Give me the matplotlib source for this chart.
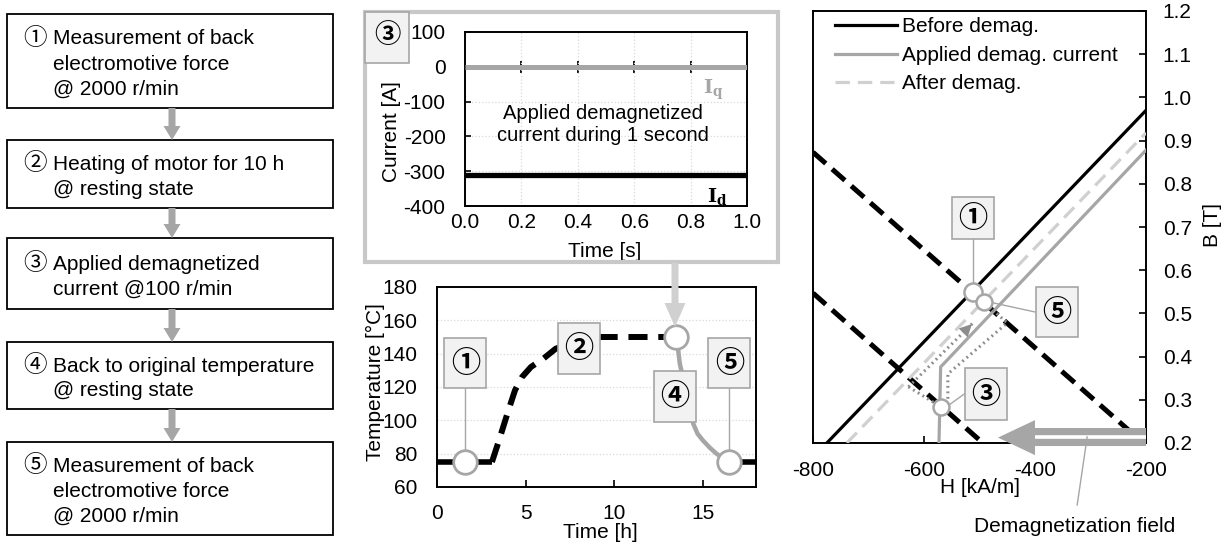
import matplotlib
matplotlib.use("Agg")
import matplotlib.pyplot as plt
from matplotlib.patches import Rectangle, FancyArrow, Polygon
from matplotlib.lines import Line2D
from matplotlib.transforms import IdentityTransform

plt.rcParams['font.family'] = ['Liberation Sans', 'Noto Sans CJK JP', 'DejaVu Sans']
plt.rcParams['mathtext.fontset'] = 'dejavuserif'
plt.rcParams['axes.unicode_minus'] = False

# ---------------- data ----------------
flow_steps = [
    ("①", ["Measurement of back", "electromotive force", "@ 2000 r/min"]),
    ("②", ["Heating of motor for 10 h", "@ resting state"]),
    ("③", ["Applied demagnetized", "current @100 r/min"]),
    ("④", ["Back to original temperature", "@ resting state"]),
    ("⑤", ["Measurement of back", "electromotive force", "@ 2000 r/min"]),
]

# current inset
cur_t = [0.0, 1.0]
cur_Iq = [0, 0]
cur_Id = [-310, -310]

# temperature history
pre_t = [0.0, 3.1]
pre_T = [75, 75]
heat_t = [3.1, 3.5, 4.0, 4.4, 4.8, 5.3, 6.0, 6.7, 8.0, 9.2, 11.0, 13.5]
heat_T = [75, 88, 105, 118, 126, 132, 137, 143, 148, 150, 150, 150]
cool_t = [13.5, 13.6, 13.7, 14.0, 14.2, 14.46, 14.7, 15.0, 15.4, 15.77, 16.1, 16.5]
cool_T = [150, 143, 134, 120, 110, 98, 92, 88, 83.5, 80, 77.5, 75]
post_t = [16.5, 18.0]
post_T = [75, 75]
temp_mark_t = [1.6, 13.5, 16.5]
temp_mark_T = [75, 150, 75]

# B-H diagram
H_before = [-775, -200]
B_before = [0.2, 0.97]
H_applied = [-573, -570, -200]
B_applied = [0.2, 0.376, 0.878]
H_after = [-739, -200]
B_after = [0.2, 0.918]
H_load1 = [-800, -205]
B_load1 = [0.873, 0.2]
H_load2 = [-800, -494]
B_load2 = [0.547, 0.2]
H_path_a = [-628, -510]
B_path_a = [0.33, 0.48]
H_path_b = [-628, -570]
B_path_b = [0.33, 0.284]
H_path_c = [-559, -557, -557, -450, -492]
B_path_c = [0.29, 0.30, 0.36, 0.478, 0.526]
bh_mark_H = [-512, -492, -570]
bh_mark_B = [0.55, 0.526, 0.284]

GRAY = '#a6a6a6'
LGRAY = '#d0d0d0'
DGRAY = '#8c8c8c'
BOXFC = '#f2f2f2'
FS = 15
ID = IdentityTransform()
W, HGT = 1224, 543

fig = plt.figure(figsize=(12.24, 5.43), dpi=100)


def fpos(x0, y0, x1, y1):
    return [x0 / W, 1 - y1 / HGT, (x1 - x0) / W, (y1 - y0) / HGT]


def callout(ax, anchor, label, dx, dy, w, h, leader=None, r=0, fs=21):
    X, Y = ax.transData.transform(anchor)
    cx, cy = X + dx, Y + dy
    ax.add_patch(Rectangle((cx - w / 2, cy - h / 2), w, h, transform=ID, fc=BOXFC,
                           ec=GRAY, lw=1.2, zorder=6, clip_on=False))
    ax.text(cx, cy - 1, label, transform=ID, ha='center', va='center', fontsize=fs,
            fontweight='bold', zorder=7, clip_on=False)
    if leader == 'bottom':
        ax.add_line(Line2D([X, cx], [Y + r, cy - h / 2], transform=ID, color=GRAY,
                           lw=1.0, zorder=3, clip_on=False))
    elif leader == 'left':
        ax.add_line(Line2D([X + r, cx - w / 2], [Y, cy], transform=ID, color=GRAY,
                           lw=1.0, zorder=3, clip_on=False))


# ---------------- current inset ----------------
axc = fig.add_axes(fpos(465, 32, 747, 206))
axc.plot(cur_t, cur_Iq, color=GRAY, lw=3.6, solid_capstyle='butt', zorder=3)
axc.plot(cur_t, cur_Id, color='black', lw=3.8, solid_capstyle='butt', zorder=3)
axc.set_xlim(0, 1.0)
axc.set_ylim(-400, 100)
axc.set_xticks([0.0, 0.2, 0.4, 0.6, 0.8, 1.0])
axc.set_xticklabels(['0.0', '0.2', '0.4', '0.6', '0.8', '1.0'])
axc.set_yticks([-400, -300, -200, -100, 0, 100])
axc.grid(True, color='#d9d9d9', lw=0.9, ls=':')
axc.tick_params(axis='x', length=0, pad=5, labelsize=FS)
axc.tick_params(axis='y', direction='in', length=4, width=1.2, pad=14, labelsize=FS)
for s in axc.spines.values():
    s.set_linewidth(1.4)
sec = axc.secondary_xaxis(0.8)
sec.set_xticks([0.2, 0.4, 0.6, 0.8])
sec.tick_params(direction='inout', length=8, width=1.3, labelbottom=False, labeltop=False)
for s in sec.spines.values():
    s.set_visible(False)
axc.text(0.49, -167, "Applied demagnetized\ncurrent during 1 second", ha='center', va='center',
         fontsize=14.5, zorder=4)
axc.text(0.879, -66, r"$\mathbf{I_q}$", color=GRAY, ha='center', va='center', fontsize=14)
axc.text(0.894, -372, r"$\mathbf{I_d}$", color='black', ha='center', va='center', fontsize=14)
axc.text(-0.259, 0.43, "Current [A]", transform=axc.transAxes, rotation=90, ha='center',
         va='center', fontsize=FS)
axc.text(0.496, -0.264, "Time [s]", transform=axc.transAxes, ha='center', va='center', fontsize=FS)

# ---------------- temperature ----------------
axt = fig.add_axes(fpos(437, 287, 756, 487))
axt.set_facecolor('none')
axt.plot(pre_t, pre_T, color='black', lw=4.0, solid_capstyle='butt', zorder=2)
axt.plot(heat_t, heat_T, color='black', lw=4.3, ls=(0, (3.2, 1.8)), zorder=2)
axt.plot(cool_t, cool_T, color=GRAY, lw=3.2, zorder=2)
axt.plot(post_t, post_T, color='black', lw=4.0, solid_capstyle='butt', zorder=2)
axt.plot(temp_mark_t, temp_mark_T, ls='none', marker='o', ms=17, mfc='white', mec=GRAY,
         mew=2, zorder=5, clip_on=False)
axt.set_xlim(0, 18)
axt.set_ylim(60, 180)
axt.set_xticks([0, 5, 10, 15])
axt.set_yticks([60, 80, 100, 120, 140, 160, 180])
axt.yaxis.grid(True, color='#d9d9d9', lw=0.9, ls=':')
axt.tick_params(axis='x', direction='in', length=5, width=1.2, pad=12, labelsize=FS)
axt.tick_params(axis='y', length=0, pad=14, labelsize=FS)
for s in axt.spines.values():
    s.set_linewidth(1.4)
axt.text(-0.194, 0.525, "Temperature [°C]", transform=axt.transAxes, rotation=90, ha='center',
         va='center', fontsize=FS)
axt.text(0.511, -0.23, "Time [h]", transform=axt.transAxes, ha='center', va='center', fontsize=FS)

# ---------------- B-H ----------------
axb = fig.add_axes(fpos(813, 11, 1146, 443))
axb.plot(H_load1, B_load1, color='black', lw=3.6, ls=(0, (3.4, 1.7)), zorder=2)
axb.plot(H_load2, B_load2, color='black', lw=3.6, ls=(0, (3.4, 1.7)), zorder=2)
lb, = axb.plot(H_before, B_before, color='black', lw=2.3, label='Before demag.', zorder=3)
la, = axb.plot(H_applied, B_applied, color=GRAY, lw=2.3, label='Applied demag. current', zorder=3)
lf, = axb.plot(H_after, B_after, color=LGRAY, lw=2.3, ls=(0, (4.5, 2.5)), label='After demag.', zorder=3)
axb.plot(H_path_a, B_path_a, color=DGRAY, lw=2.2, ls=(0, (0.6, 1.2)), zorder=3)
axb.plot(H_path_b, B_path_b, color=DGRAY, lw=2.2, ls=(0, (0.6, 1.2)), zorder=3)
axb.plot(H_path_c, B_path_c, color=DGRAY, lw=2.2, ls=(0, (0.6, 1.2)), zorder=3)
axb.annotate('', xy=(H_path_a[1], B_path_a[1]), xytext=(H_path_a[1] - 12, B_path_a[1] - 0.0155),
             arrowprops=dict(arrowstyle='-|>,head_length=0.9,head_width=0.45', color=DGRAY, lw=0),
             zorder=4)
axb.plot(bh_mark_H[:1], bh_mark_B[:1], ls='none', marker='o', ms=13, mfc='white', mec=GRAY, mew=1.8, zorder=5)
axb.plot(bh_mark_H[1:], bh_mark_B[1:], ls='none', marker='o', ms=11.5, mfc='white', mec=GRAY, mew=1.8, zorder=5)
axb.set_xlim(-800, -200)
axb.set_ylim(0.2, 1.2)
axb.set_xticks([-800, -600, -400, -200])
axb.set_yticks([0.2, 0.3, 0.4, 0.5, 0.6, 0.7, 0.8, 0.9, 1.0, 1.1, 1.2])
axb.set_yticklabels(['0.2', '0.3', '0.4', '0.5', '0.6', '0.7', '0.8', '0.9', '1.0', '1.1', '1.2'])
axb.yaxis.tick_right()
axb.tick_params(axis='x', direction='in', length=5, width=1.2, pad=13, labelsize=FS)
axb.tick_params(axis='y', direction='in', length=5, width=1.2, pad=12, labelsize=FS)
for s in axb.spines.values():
    s.set_linewidth(1.4)
axb.text(0.5, -0.104, "H [kA/m]", transform=axb.transAxes, ha='center', va='center', fontsize=FS)
axb.text(1.201, 0.505, "B [T]", transform=axb.transAxes, rotation=90, ha='center', va='center', fontsize=FS)
axb.legend(handles=[lb, la, lf], loc='upper left', bbox_to_anchor=(0.065, 0.985), frameon=False,
           fontsize=FS, handlelength=3.0, handletextpad=0.25, labelspacing=0.45, borderaxespad=0,
           borderpad=0)
# demagnetization field arrow
axb.add_patch(Polygon([(-466.7, 0.2125), (-400, 0.253), (-400, 0.2347), (-200, 0.2347),
                       (-200, 0.193), (-400, 0.193), (-400, 0.172)], closed=True, fc=GRAY,
                      ec='none', clip_on=False, zorder=4))
axb.plot([-400, -200], [0.2135, 0.2135], color='white', lw=2.6, solid_capstyle='butt',
         clip_on=False, zorder=4)
axb.plot([-324, -306], [0.0565, 0.214], color=GRAY, lw=1.0, clip_on=False, zorder=4)
axb.text(-328, 0.0056, "Demagnetization field", ha='center', va='center', fontsize=15, clip_on=False)

# ---------------- overlay ----------------
ov = fig.add_axes([0, 0, 1, 1])
ov.set_xlim(0, W)
ov.set_ylim(HGT, 0)
ov.axis('off')
ov.set_facecolor('none')

box_y = [(14, 108), (140, 208), (238, 309), (342, 409), (442, 535)]
for (num, lines), (y0, y1) in zip(flow_steps, box_y):
    ov.add_patch(Rectangle((7, y0), 326, y1 - y0, fc='white', ec='black', lw=1.3))
    yc = (y0 + y1) / 2 + 3
    n = len(lines)
    for i, ln in enumerate(lines):
        y = yc + (i - (n - 1) / 2) * 25
        if i == 0:
            ov.text(35, y, num, ha='center', va='center', fontsize=17)
        ov.text(53, y, ln, ha='left', va='center', fontsize=FS)
for (ya0, ya1), (yb0, yb1) in zip(box_y[:-1], box_y[1:]):
    ov.add_patch(FancyArrow(172, ya1, 0, yb0 - ya1, width=7, head_width=17, head_length=14,
                            length_includes_head=True, color=GRAY, lw=0))

# inset frame
ov.add_patch(Rectangle((365, 12), 413, 250, fc='none', ec='#c8c8c8', lw=3))
ov.add_patch(Rectangle((365, 12), 44, 51, fc=BOXFC, ec=GRAY, lw=1.2))
ov.text(387, 36, "③", ha='center', va='center', fontsize=19, fontweight='bold')
ov.add_patch(FancyArrow(675, 263, 0, 64, width=7, head_width=21, head_length=24,
                        length_includes_head=True, color='#d0d0d0', lw=0))

# callouts inside the plots
callout(axt, (temp_mark_t[0], temp_mark_T[0]), "①", 0, 99, 42, 50, leader='bottom', r=9)
callout(axt, (8.0, 143.4), "②", 0, 0, 42, 51)
callout(axt, (13.42, 114.3), "④", 0, 0, 42, 51)
callout(axt, (temp_mark_t[2], temp_mark_T[2]), "⑤", 0, 99, 42, 50, leader='bottom', r=9)
callout(axb, (bh_mark_H[0], bh_mark_B[0]), "①", 0, 74, 42, 42, leader='bottom', r=7)
callout(axb, (bh_mark_H[1], bh_mark_B[1]), "⑤", 73, -10, 42, 50, leader='left', r=6)
callout(axb, (bh_mark_H[2], bh_mark_B[2]), "③", 45, 13, 42, 52, leader='left', r=6)

fig.savefig('out.png', dpi=100)
